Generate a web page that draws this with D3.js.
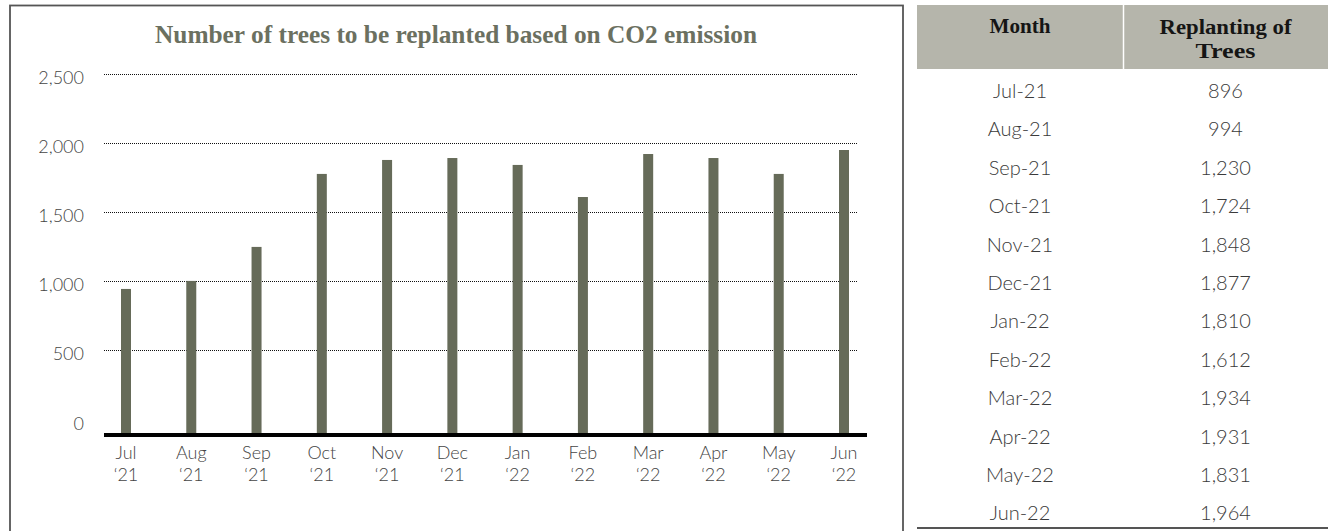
<!DOCTYPE html>
<html>
<head>
<meta charset="utf-8">
<script src="https://cdn.jsdelivr.net/npm/d3@7/dist/d3.min.js"></script>
<style>
  html, body { margin: 0; padding: 0; background: #fff; }
  svg { display: block; }
  .sans { font-family: Lato, "Open Sans", "DejaVu Sans", sans-serif; font-weight: 300; }
  .serif { font-family: "Liberation Serif", "DejaVu Serif", serif; font-weight: bold; }
</style>
</head>
<body>
<svg id="chart" width="1328" height="531"></svg>
<script>
// Monthly bar chart of trees to replant, plus the companion table.
const months = ["Jul", "Aug", "Sep", "Oct", "Nov", "Dec", "Jan", "Feb", "Mar", "Apr", "May", "Jun"];
const years = ["21", "21", "21", "21", "21", "21", "22", "22", "22", "22", "22", "22"];
const barValues = [943, 1001, 1247, 1775, 1876, 1890, 1840, 1608, 1919, 1890, 1775, 1948];
const yTicks = [0, 500, 1000, 1500, 2000, 2500];
const tableMonths = ["Jul-21", "Aug-21", "Sep-21", "Oct-21", "Nov-21", "Dec-21",
                     "Jan-22", "Feb-22", "Mar-22", "Apr-22", "May-22", "Jun-22"];
const tableValues = [896, 994, 1230, 1724, 1848, 1877, 1810, 1612, 1934, 1931, 1831, 1964];
const titleText = "Number of trees to be replanted based on CO2 emission";
const axisFloor = -113; // value where the heavy baseline sits

const svg = d3.select("#chart");
const fmt = d3.format(",");

// Frame around the chart panel
svg.append("rect")
  .attr("x", 10).attr("y", 5.5).attr("width", 893).attr("height", 540)
  .attr("fill", "none").attr("stroke", "#555").attr("stroke-width", 1.8);

// Title
svg.append("text")
  .attr("class", "serif")
  .attr("x", 155).attr("y", 43)
  .attr("font-size", 25)
  .attr("fill", "#6b7060")
  .attr("textLength", 602).attr("lengthAdjust", "spacingAndGlyphs")
  .text(titleText);

// Scales
const x = d3.scalePoint().domain(months).range([126, 844]);
const y = d3.scaleLinear().domain([0, 2500]).range([419.3, 73.7]);
const barW = 10;

// Dotted gridlines
svg.append("g").selectAll("line")
  .data(yTicks.filter(d => d > 0))
  .join("line")
  .attr("x1", 104).attr("x2", 857)
  .attr("y1", d => Math.round(y(d)) + 0.5).attr("y2", d => Math.round(y(d)) + 0.5)
  .attr("stroke", "#111").attr("stroke-width", 1)
  .attr("stroke-dasharray", "1,1");

// Y axis labels
const yAxis = d3.axisLeft(y).tickValues(yTicks).tickFormat(fmt).tickSize(0).tickPadding(0);
const gy = svg.append("g").attr("transform", "translate(84,4)").call(yAxis);
gy.select(".domain").remove();
gy.selectAll("text")
  .attr("class", "sans")
  .attr("font-size", 18)
  .attr("fill", "#444");

// Bars
svg.append("g").selectAll("rect")
  .data(barValues)
  .join("rect")
  .attr("x", (d, i) => x(months[i]) - barW / 2)
  .attr("width", barW)
  .attr("y", d => y(d))
  .attr("height", d => y(axisFloor) - y(d))
  .attr("fill", "#666b59");

// Heavy baseline
svg.append("line")
  .attr("x1", 104).attr("x2", 867)
  .attr("y1", y(axisFloor)).attr("y2", y(axisFloor))
  .attr("stroke", "#000").attr("stroke-width", 4);

// X axis labels (month + year on two lines)
const xl = svg.append("g").selectAll("text")
  .data(months)
  .join("text")
  .attr("class", "sans")
  .attr("text-anchor", "middle")
  .attr("font-size", 18)
  .attr("fill", "#444")
  .attr("x", d => x(d))
  .attr("y", y(axisFloor) + 24);
xl.append("tspan").attr("x", d => x(d)).text(d => d);
xl.append("tspan").attr("x", d => x(d)).attr("dy", 22).text((d, i) => "\u2018" + years[i]);

// Table
const colX = [917, 1123, 1328];
const headerTop = 5, headerBottom = 69;
svg.append("rect")
  .attr("x", colX[0]).attr("y", headerTop)
  .attr("width", colX[2] - colX[0]).attr("height", headerBottom - headerTop)
  .attr("fill", "#b5b5ab");
svg.append("line")
  .attr("x1", colX[1] + 0.5).attr("x2", colX[1] + 0.5)
  .attr("y1", headerTop).attr("y2", headerBottom)
  .attr("stroke", "#fff").attr("stroke-width", 1.5);

const c1 = (colX[0] + colX[1]) / 2, c2 = (colX[1] + colX[2]) / 2;
svg.append("text").attr("class", "serif").attr("font-size", 20).attr("fill", "#151515")
  .attr("text-anchor", "middle").attr("x", c1).attr("y", 33)
  .attr("textLength", 61).attr("lengthAdjust", "spacingAndGlyphs")
  .text("Month");
svg.append("text").attr("class", "serif").attr("font-size", 20).attr("fill", "#151515")
  .attr("text-anchor", "middle").attr("x", c2).attr("y", 34)
  .attr("textLength", 132).attr("lengthAdjust", "spacingAndGlyphs")
  .text("Replanting of");
svg.append("text").attr("class", "serif").attr("font-size", 20).attr("fill", "#151515")
  .attr("text-anchor", "middle").attr("x", c2).attr("y", 58)
  .attr("textLength", 60).attr("lengthAdjust", "spacingAndGlyphs")
  .text("Trees");

const rowY = d3.scalePoint().domain(tableMonths).range([90, 512.4]);
const rows = svg.append("g").selectAll("g")
  .data(tableMonths)
  .join("g");
rows.append("text")
  .attr("class", "sans").attr("font-size", 20).attr("fill", "#3a3a3a")
  .attr("text-anchor", "middle").attr("dominant-baseline", "central")
  .attr("x", c1).attr("y", d => rowY(d))
  .text(d => d);
rows.append("text")
  .attr("class", "sans").attr("font-size", 20).attr("fill", "#3a3a3a")
  .attr("text-anchor", "middle").attr("dominant-baseline", "central")
  .attr("x", c2).attr("y", d => rowY(d))
  .text((d, i) => fmt(tableValues[i]));

// Bottom rule of the table
svg.append("line")
  .attr("x1", colX[0]).attr("x2", colX[2])
  .attr("y1", 528).attr("y2", 528)
  .attr("stroke", "#555").attr("stroke-width", 2);
</script>
</body>
</html>
